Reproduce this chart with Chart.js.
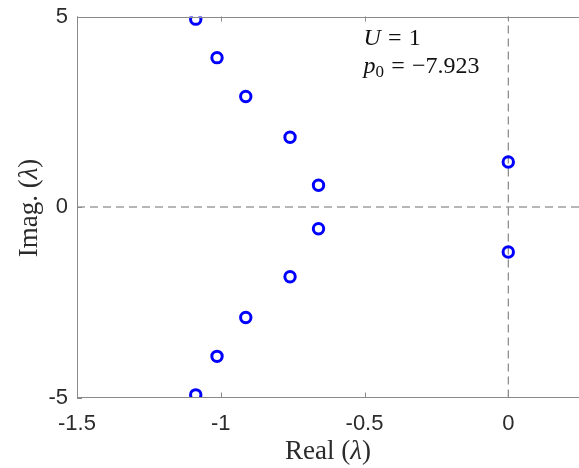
<!DOCTYPE html>
<html><head><meta charset="utf-8">
<script src="https://cdn.jsdelivr.net/npm/chart.js@4.4.0/dist/chart.umd.min.js"></script>
<style>html,body{margin:0;padding:0;background:#fff;overflow:hidden}#wrap{width:579px;height:468px;position:relative}</style>
</head><body><div id="wrap"><canvas id="c" width="579" height="468"></canvas></div>
<script>
// ---- data ----
const realParts = [-1.087, -1.013, -0.913, -0.759, -0.660, 0, 0, -0.660, -0.759, -0.913, -1.013, -1.087];
const imagParts = [4.93, 3.92, 2.90, 1.83, 0.57, 1.18, -1.18, -0.57, -1.83, -2.90, -3.92, -4.93];
const xTicks = [-1.5, -1, -0.5, 0];
const yTicks = [-5, 0, 5];
const xRange = [-1.5, 0.246];
const yRange = [-5, 5];
const xTitle = ['Real (', 'λ', ')'];
const yTitle = ['Imag. (', 'λ', ')'];
const paramU = '1';
const paramP0 = '−7.923';
const annotAnchor = {x: -0.5, y: 4.25};

const points = realParts.map((r, i) => ({x: r, y: imagParts[i]}));
const vLine = [{x: 0, y: yRange[0]}, {x: 0, y: yRange[1]}];
const hLine = [{x: xRange[0], y: 0}, {x: xRange[1], y: 0}];

const SERIF = '"Liberation Serif", "DejaVu Serif", serif';
const SANS = '"Liberation Sans", Arial, sans-serif';

// segs: [text, font, dy] ; numbers = pixel gaps
function drawSegments(ctx, segs, x, y) {
  let cx = x;
  for (const s of segs) {
    if (typeof s === 'number') { cx += s; continue; }
    const [t, f, dy] = s;
    ctx.font = f;
    ctx.fillText(t, cx, y + (dy || 0));
    cx += ctx.measureText(t).width;
  }
  return cx - x;
}
function segWidth(ctx, segs) {
  let w = 0;
  for (const s of segs) {
    if (typeof s === 'number') { w += s; continue; }
    ctx.font = s[1]; w += ctx.measureText(s[0]).width;
  }
  return w;
}

const overlay = {
  id: 'overlay',
  afterDatasetsDraw(chart) {
    const ctx = chart.ctx, a = chart.chartArea;
    const xs = chart.scales.x, ys = chart.scales.y;
    ctx.save();
    ctx.strokeStyle = '#8a8a8a';
    ctx.lineWidth = 1;
    ctx.beginPath();
    ctx.moveTo(Math.round(a.left) + 0.5, a.top); ctx.lineTo(Math.round(a.left) + 0.5, a.bottom);
    ctx.moveTo(a.left, Math.round(a.top) + 0.5); ctx.lineTo(a.right, Math.round(a.top) + 0.5);
    ctx.moveTo(a.left, Math.round(a.bottom) - 0.5); ctx.lineTo(a.right, Math.round(a.bottom) - 0.5);
    const tl = 5;
    for (const v of xTicks) {
      const px = Math.round(xs.getPixelForValue(v)) + 0.5;
      ctx.moveTo(px, a.top); ctx.lineTo(px, a.top + tl);
      ctx.moveTo(px, a.bottom); ctx.lineTo(px, a.bottom - tl);
    }
    for (const v of yTicks) {
      const py = Math.round(ys.getPixelForValue(v)) + 0.5;
      ctx.moveTo(a.left, py); ctx.lineTo(a.left + tl, py);
    }
    ctx.stroke();
    ctx.restore();
  },
  afterDraw(chart) {
    const ctx = chart.ctx, a = chart.chartArea;
    const xs = chart.scales.x, ys = chart.scales.y;
    ctx.save();
    ctx.fillStyle = '#2b2b2b';
    ctx.textBaseline = 'alphabetic';
    ctx.textAlign = 'left';
    const fs = 27;
    const up = `${fs}px ${SERIF}`, it = `italic ${fs}px ${SERIF}`;
    // x title
    const xs1 = [[xTitle[0], up], [xTitle[1], it], [xTitle[2], up]];
    const wx = segWidth(ctx, xs1);
    drawSegments(ctx, xs1, (a.left + a.right) / 2 - wx / 2, a.bottom + 61);
    // y title
    const ys1 = [[yTitle[0], up], [yTitle[1], it], [yTitle[2], up]];
    const wy = segWidth(ctx, ys1);
    ctx.save();
    ctx.translate(37, (a.top + a.bottom) / 2 + 1);
    ctx.rotate(-Math.PI / 2);
    drawSegments(ctx, ys1, -wy / 2, 0);
    ctx.restore();
    // annotation
    ctx.fillStyle = '#111';
    const af = 24;
    const aup = `${af}px ${SERIF}`, ait = `italic ${af}px ${SERIF}`, asub = `${Math.round(af * 0.7)}px ${SERIF}`;
    const gap = af * 0.3;
    const ax = xs.getPixelForValue(annotAnchor.x) - 1;
    const ay = ys.getPixelForValue(annotAnchor.y);
    drawSegments(ctx, [['U', ait], gap, ['=', aup], gap, [paramU, aup]], ax, ay);
    drawSegments(ctx, [['p', ait], ['0', asub, 4], gap, ['=', aup], gap, [paramP0, aup]], ax, ay + 28);
    ctx.restore();
  }
};

const zeroPad = s => { s.paddingLeft = 0; s.paddingRight = 0; s.paddingTop = 0; s.paddingBottom = 0; };

new Chart(document.getElementById('c'), {
  type: 'scatter',
  data: {
    datasets: [
      {
        data: points, order: 0,
        pointStyle: 'circle', pointRadius: 5.2, pointHoverRadius: 5.2,
        borderColor: '#0000ff', backgroundColor: 'rgba(0,0,0,0)', borderWidth: 3, pointBorderWidth: 3
      },
      {
        data: vLine, order: 1, showLine: true, pointRadius: 0,
        borderColor: '#6e6e6e', borderWidth: 1, borderDash: [8, 5]
      },
      {
        data: hLine, order: 1, showLine: true, pointRadius: 0,
        borderColor: '#6e6e6e', borderWidth: 1, borderDash: [8, 5]
      }
    ]
  },
  options: {
    responsive: false, animation: false,
    layout: {autoPadding: false, padding: {top: 16.5, right: 0, left: 0, bottom: 0}},
    plugins: {legend: {display: false}, tooltip: {enabled: false}},
    scales: {
      x: {
        type: 'linear', min: xRange[0], max: xRange[1],
        afterBuildTicks: s => { s.ticks = xTicks.map(v => ({value: v})); },
        afterFit: s => { s.height = 70.5; zeroPad(s); },
        grid: {display: false, drawTicks: false}, border: {display: false},
        ticks: {font: {family: SANS, size: 22}, color: '#2b2b2b', padding: 13, maxRotation: 0, callback: v => String(v)}
      },
      y: {
        type: 'linear', min: yRange[0], max: yRange[1],
        afterBuildTicks: s => { s.ticks = yTicks.map(v => ({value: v})); },
        afterFit: s => { s.width = 77; zeroPad(s); },
        grid: {display: false, drawTicks: false}, border: {display: false},
        ticks: {font: {family: SANS, size: 22}, color: '#2b2b2b', padding: 9, callback: v => String(v)}
      }
    }
  },
  plugins: [overlay]
});
</script></body></html>
